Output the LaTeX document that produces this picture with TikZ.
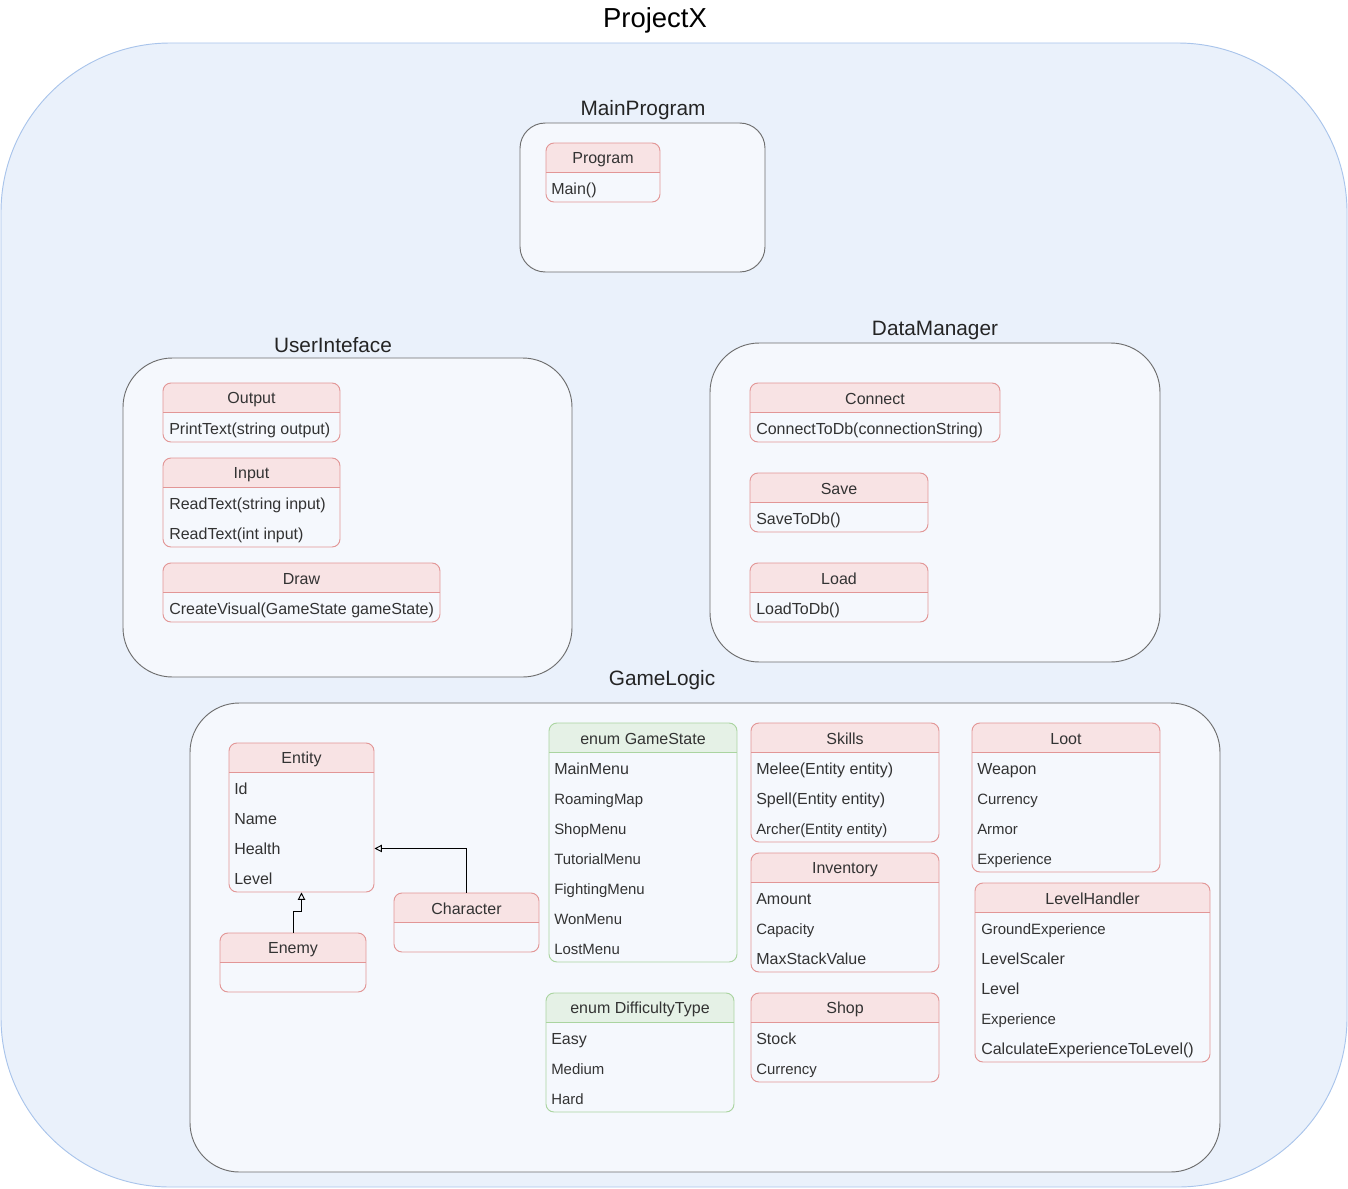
\documentclass[tikz,border=0pt]{standalone}
\usepackage{fontspec}
\setmainfont{Liberation Sans}
\usetikzlibrary{arrows.meta,fit}

\definecolor{outerfill}{RGB}{234,241,251}
\definecolor{outerline}{RGB}{169,196,235}
\definecolor{panelfill}{RGB}{245,248,253}
\definecolor{panelline}{RGB}{110,110,110}
\definecolor{redhead}{RGB}{248,227,228}
\definecolor{redline}{RGB}{226,150,150}
\definecolor{greenhead}{RGB}{229,241,230}
\definecolor{greenline}{RGB}{170,212,160}
\definecolor{ink}{RGB}{51,51,51}

\tikzset{
  bigtitle/.style={font=\fontsize{20.6}{24}\selectfont, text=black, inner sep=0pt, yshift=-1.8pt},
  grouptitle/.style={font=\fontsize{15.6}{18}\selectfont, text=ink!70!black, inner sep=0pt, yshift=-1.8pt},
  classtitle/.style={font=\fontsize{12}{14}\selectfont, text=ink, inner sep=0pt, yshift=-0.9pt},
  itm/.style={anchor=mid west, font=\fontsize{12}{14}\selectfont, text=ink, inner sep=0pt, yshift=-2pt},
  itms/.style={anchor=mid west, font=\fontsize{11.2}{13}\selectfont, text=ink, inner sep=0pt, yshift=-2pt},
  grouppanel/.style={draw=panelline, line width=0.7pt, fill=panelfill},
  inherit/.style={draw=black, line width=0.7pt, -{Triangle[open, length=5.5pt, width=5.5pt]}}
}

% class box: name, x1, y1, x2, y2, title, header colour, line colour
\newcommand\umlclass[8]{%
  \begin{scope}
    \clip[rounded corners=6pt] (#2,#3) rectangle (#4,#5);
    \fill[panelfill] (#2,#3) rectangle (#4,#5);
    \fill[#7] (#2,#3) rectangle (#4,{#3+29});
  \end{scope}
  \node[fit={(#2,#3)(#4,#5)}, inner sep=0pt, draw=#8, line width=0.7pt, rounded corners=6pt] (#1) {};
  \draw[#8, line width=0.7pt] (#2,{#3+29}) -- (#4,{#3+29});
  \node[classtitle] (#1-title) at ({(#2+#4)/2},{#3+15}) {#6};
}

\begin{document}
\begin{tikzpicture}[x=0.75pt, y=-0.75pt]
\useasboundingbox (0,0) rectangle (1348,1188);

% outer project frame
\draw[draw=outerline, fill=outerfill, line width=0.7pt, rounded corners=127pt] (1,43) rectangle (1347,1187);
\node[bigtitle] (projectx) at (655,18) {ProjectX};

% group panels
\draw[grouppanel, rounded corners=19pt] (520,123) rectangle (765,272);
\node[grouptitle] (mainprogram) at (643,108) {MainProgram};

\draw[grouppanel, rounded corners=37pt] (123,358) rectangle (572,677);
\node[grouptitle] (userinterface) at (333,343) {UserInteface};

\draw[grouppanel, rounded corners=37pt] (710,343) rectangle (1160,662);
\node[grouptitle] (datamanager) at (935,328) {DataManager};

\draw[grouppanel, rounded corners=37pt] (190,703) rectangle (1220,1172);
\node[grouptitle] (gamelogic) at (662,678) {GameLogic};

% MainProgram
\umlclass{program}{546}{143}{660}{202}{Program}{redhead}{redline}
\node[itm] (program-main) at (551,188) {Main()};

% UserInteface
\umlclass{output}{163}{383}{340}{442}{Output}{redhead}{redline}
\node[itm] (output-print) at (169,428) {PrintText(string output)};

\umlclass{input}{163}{458}{340}{547}{Input}{redhead}{redline}
\node[itm] (input-str) at (169,503) {ReadText(string input)};
\node[itm] (input-int) at (169,533) {ReadText(int input)};

\umlclass{draw}{163}{563}{440}{622}{Draw}{redhead}{redline}
\node[itm] (draw-visual) at (169,608) {CreateVisual(GameState gameState)};

% DataManager
\umlclass{connect}{750}{383}{1000}{442}{Connect}{redhead}{redline}
\node[itm] (connect-db) at (756,428) {ConnectToDb(connectionString)};

\umlclass{save}{750}{473}{928}{532}{Save}{redhead}{redline}
\node[itm] (save-db) at (756,518) {SaveToDb()};

\umlclass{load}{750}{563}{928}{622}{Load}{redhead}{redline}
\node[itm] (load-db) at (756,608) {LoadToDb()};

% GameLogic
\umlclass{entity}{229}{743}{374}{892}{Entity}{redhead}{redline}
\node[itm] (entity-id) at (234,788) {Id};
\node[itm] (entity-name) at (234,818) {Name};
\node[itm] (entity-health) at (234,848) {Health};
\node[itm] (entity-level) at (234,878) {Level};

\umlclass{enemy}{220}{933}{366}{992}{Enemy}{redhead}{redline}
\umlclass{character}{394}{893}{539}{952}{Character}{redhead}{redline}

\umlclass{gamestate}{549}{723}{737}{962}{enum GameState}{greenhead}{greenline}
\node[itm]  (gs-main) at (554,768) {MainMenu};
\node[itms] (gs-roam) at (554,798) {RoamingMap};
\node[itms] (gs-shop) at (554,828) {ShopMenu};
\node[itms] (gs-tut) at (554,858) {TutorialMenu};
\node[itms] (gs-fight) at (554,888) {FightingMenu};
\node[itms] (gs-won) at (554,918) {WonMenu};
\node[itms] (gs-lost) at (554,948) {LostMenu};

\umlclass{difficulty}{546}{993}{734}{1112}{enum DifficultyType}{greenhead}{greenline}
\node[itm]  (dt-easy) at (551,1038) {Easy};
\node[itms] (dt-medium) at (551,1068) {Medium};
\node[itms] (dt-hard) at (551,1098) {Hard};

\umlclass{skills}{751}{723}{939}{842}{Skills}{redhead}{redline}
\node[itm]  (sk-melee) at (756,768) {Melee(Entity entity)};
\node[itm]  (sk-spell) at (756,798) {Spell(Entity entity)};
\node[itms] (sk-archer) at (756,828) {Archer(Entity entity)};

\umlclass{inventory}{751}{853}{939}{972}{Inventory}{redhead}{redline}
\node[itm]  (inv-amount) at (756,898) {Amount};
\node[itms] (inv-capacity) at (756,928) {Capacity};
\node[itm]  (inv-max) at (756,958) {MaxStackValue};

\umlclass{shop}{751}{993}{939}{1082}{Shop}{redhead}{redline}
\node[itm]  (shop-stock) at (756,1038) {Stock};
\node[itms] (shop-currency) at (756,1068) {Currency};

\umlclass{loot}{972}{723}{1160}{872}{Loot}{redhead}{redline}
\node[itm]  (loot-weapon) at (977,768) {Weapon};
\node[itms] (loot-currency) at (977,798) {Currency};
\node[itms] (loot-armor) at (977,828) {Armor};
\node[itms] (loot-exp) at (977,858) {Experience};

\umlclass{levelhandler}{975}{883}{1210}{1062}{LevelHandler}{redhead}{redline}
\node[itms] (lh-ground) at (981,928) {GroundExperience};
\node[itm]  (lh-scaler) at (981,958) {LevelScaler};
\node[itm]  (lh-level) at (981,988) {Level};
\node[itms] (lh-exp) at (981,1018) {Experience};
\node[itm]  (lh-calc) at (981,1048) {CalculateExperienceToLevel()};

% inheritance
\draw[inherit] (enemy.north) -- ++(0,-21) -| (entity.south);
\draw[inherit] (character.north) |- (entity.east |- entity-health);

\end{tikzpicture}
\end{document}
